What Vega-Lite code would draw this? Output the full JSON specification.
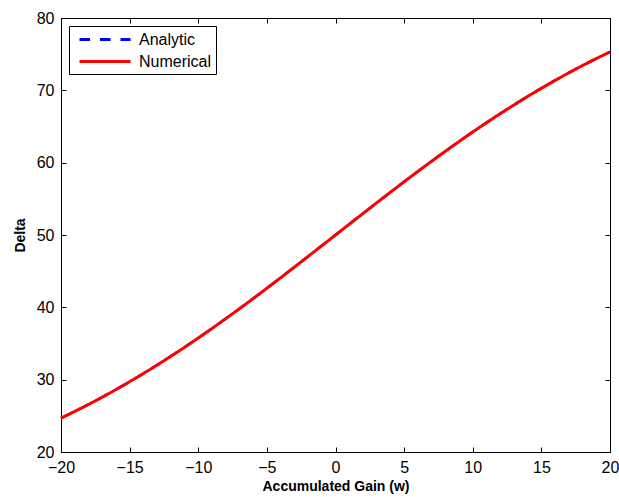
{
  "$schema": "https://vega.github.io/schema/vega-lite/v6.json",
  "width": 549,
  "height": 434,
  "autosize": {"type": "none"},
  "padding": {"left": 61, "top": 18, "right": 9, "bottom": 45},
  "background": "white",
  "config": {
    "font": "Liberation Sans",
    "view": {"stroke": "black", "strokeWidth": 1},
    "axis": {
      "domainColor": "black",
      "tickColor": "black",
      "labelColor": "black",
      "titleColor": "black",
      "labelFont": "Liberation Sans",
      "titleFont": "Liberation Sans",
      "labelFontSize": 16,
      "titleFontSize": 14,
      "titleFontWeight": "bold",
      "grid": false,
      "tickSize": -5,
      "labelFontWeight": "normal"
    },
    "legend": {
      "title": null,
      "orient": "top-left",
      "offset": 8,
      "strokeColor": "black",
      "fillColor": "white",
      "padding": 4,
      "symbolType": "M-0.375,0H6",
      "symbolSize": 256,
      "symbolStrokeWidth": 3,
      "labelFont": "Liberation Sans",
      "labelFontSize": 16,
      "labelColor": "black",
      "rowPadding": 4,
      "labelOffset": 47,
      "cornerRadius": 0
    }
  },
  "data": {
    "values": [
      {"w": -20, "delta": 24.69, "series": "Analytic"},
      {"w": -18, "delta": 26.57, "series": "Analytic"},
      {"w": -16, "delta": 28.63, "series": "Analytic"},
      {"w": -14, "delta": 30.85, "series": "Analytic"},
      {"w": -12, "delta": 33.23, "series": "Analytic"},
      {"w": -10, "delta": 35.76, "series": "Analytic"},
      {"w": -8, "delta": 38.43, "series": "Analytic"},
      {"w": -6, "delta": 41.21, "series": "Analytic"},
      {"w": -4, "delta": 44.09, "series": "Analytic"},
      {"w": -2, "delta": 47.03, "series": "Analytic"},
      {"w": 0, "delta": 50.0, "series": "Analytic"},
      {"w": 2, "delta": 52.97, "series": "Analytic"},
      {"w": 4, "delta": 55.91, "series": "Analytic"},
      {"w": 6, "delta": 58.79, "series": "Analytic"},
      {"w": 8, "delta": 61.57, "series": "Analytic"},
      {"w": 10, "delta": 64.24, "series": "Analytic"},
      {"w": 12, "delta": 66.77, "series": "Analytic"},
      {"w": 14, "delta": 69.15, "series": "Analytic"},
      {"w": 16, "delta": 71.37, "series": "Analytic"},
      {"w": 18, "delta": 73.43, "series": "Analytic"},
      {"w": 20, "delta": 75.31, "series": "Analytic"},
      {"w": -20, "delta": 24.69, "series": "Numerical"},
      {"w": -18, "delta": 26.57, "series": "Numerical"},
      {"w": -16, "delta": 28.63, "series": "Numerical"},
      {"w": -14, "delta": 30.85, "series": "Numerical"},
      {"w": -12, "delta": 33.23, "series": "Numerical"},
      {"w": -10, "delta": 35.76, "series": "Numerical"},
      {"w": -8, "delta": 38.43, "series": "Numerical"},
      {"w": -6, "delta": 41.21, "series": "Numerical"},
      {"w": -4, "delta": 44.09, "series": "Numerical"},
      {"w": -2, "delta": 47.03, "series": "Numerical"},
      {"w": 0, "delta": 50.0, "series": "Numerical"},
      {"w": 2, "delta": 52.97, "series": "Numerical"},
      {"w": 4, "delta": 55.91, "series": "Numerical"},
      {"w": 6, "delta": 58.79, "series": "Numerical"},
      {"w": 8, "delta": 61.57, "series": "Numerical"},
      {"w": 10, "delta": 64.24, "series": "Numerical"},
      {"w": 12, "delta": 66.77, "series": "Numerical"},
      {"w": 14, "delta": 69.15, "series": "Numerical"},
      {"w": 16, "delta": 71.37, "series": "Numerical"},
      {"w": 18, "delta": 73.43, "series": "Numerical"},
      {"w": 20, "delta": 75.31, "series": "Numerical"}
    ]
  },
  "encoding": {
    "x": {"field": "w", "type": "quantitative", "scale": {"domain": [-20, 20], "nice": false, "zero": false}},
    "y": {"field": "delta", "type": "quantitative", "scale": {"domain": [20, 80], "nice": false, "zero": false}},
    "color": {
      "field": "series", "type": "nominal",
      "scale": {"domain": ["Analytic", "Numerical"], "range": ["#0000ff", "#ff0000"]}
    },
    "strokeDash": {
      "field": "series", "type": "nominal",
      "scale": {"domain": ["Analytic", "Numerical"], "range": [[10.5, 10], [1, 0]]}
    }
  },
  "layer": [
    {
      "transform": [{"filter": "datum.series === 'Analytic'"}],
      "mark": {"type": "line", "interpolate": "monotone", "strokeWidth": 2.5},
      "encoding": {
        "x": {"field": "w", "type": "quantitative", "axis": {"orient": "bottom", "values": [-20, -15, -10, -5, 0, 5, 10, 15, 20], "title": "Accumulated Gain (w)", "labelPadding": 12, "titlePadding": 4, "labelFlush": false, "labelOverlap": false}},
        "y": {"field": "delta", "type": "quantitative", "axis": {"orient": "left", "values": [20, 30, 40, 50, 60, 70, 80], "title": "Delta", "labelPadding": 12, "titlePadding": 9, "labelFlush": false, "labelOverlap": false}}
      }
    },
    {
      "transform": [{"filter": "datum.series === 'Numerical'"}],
      "mark": {"type": "line", "interpolate": "monotone", "strokeWidth": 3},
      "encoding": {
        "x": {"field": "w", "type": "quantitative", "axis": {"orient": "top", "values": [-20, -15, -10, -5, 0, 5, 10, 15, 20], "labels": false, "title": null}},
        "y": {"field": "delta", "type": "quantitative", "axis": {"orient": "right", "values": [20, 30, 40, 50, 60, 70, 80], "labels": false, "title": null}}
      }
    }
  ],
  "resolve": {"axis": {"x": "independent", "y": "independent"}}
}
